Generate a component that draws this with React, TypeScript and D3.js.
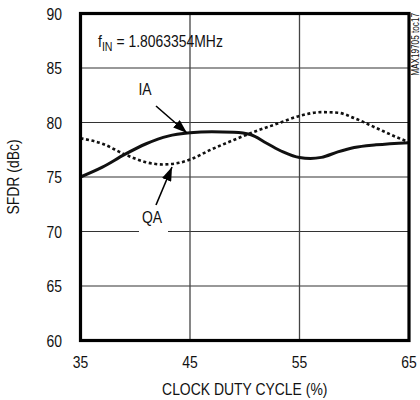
import React from "react";
import * as d3 from "d3";

const xTicks = [35, 45, 55, 65];
const yTicks = [60, 65, 70, 75, 80, 85, 90];

const iaX = [35, 37, 39, 41, 43, 45, 47, 49, 50.5, 52, 53.5, 55, 56, 57, 58.5, 60, 62, 65];
const iaY = [75.0, 75.9, 77.05, 78.05, 78.75, 79.05, 79.15, 79.1, 78.9, 78.1, 77.3, 76.78, 76.7, 76.8, 77.3, 77.7, 77.95, 78.15];

const qaX = [35, 37, 39, 41, 42.5, 44, 45, 47, 49, 51, 53, 55, 57, 58.5, 60, 62, 64, 65];
const qaY = [78.55, 78.05, 77.1, 76.35, 76.15, 76.3, 76.6, 77.55, 78.4, 79.2, 79.9, 80.6, 80.95, 80.9, 80.4, 79.5, 78.6, 78.2];

const FONT = "'Liberation Sans Narrow', 'Arial Narrow', 'Liberation Sans', Arial, sans-serif";
const SX = 0.82;

function T({ x, y, size = 17, anchor = "start", rot = 0, children }: any) {
  return (
    <g transform={`translate(${x},${y}) rotate(${rot}) scale(${SX},1)`}>
      <text x={0} y={0} fontFamily={FONT} fontSize={size} textAnchor={anchor} fill="#111">
        {children}
      </text>
    </g>
  );
}

export default function App() {
  const left = 80.5, right = 409, top = 13.5, bottom = 340.5;
  const x = d3.scaleLinear().domain([35, 65]).range([left, right]);
  const y = d3.scaleLinear().domain([60, 90]).range([bottom, top]);

  const line = d3
    .line<[number, number]>()
    .x((d) => x(d[0]))
    .y((d) => y(d[1]))
    .curve(d3.curveMonotoneX);

  const ia = line(iaX.map((v, i) => [v, iaY[i]] as [number, number])) || "";
  const qa = line(qaX.map((v, i) => [v, qaY[i]] as [number, number])) || "";

  return (
    <svg width={420} height={400} style={{ position: "absolute", left: 0, top: 0 }}>
      <defs>
        <marker id="ah" viewBox="0 0 14 10" refX="14" refY="5" markerWidth="14" markerHeight="10" markerUnits="userSpaceOnUse" orient="auto">
          <path d="M0,0 L14,5 L0,10 Z" fill="#000" />
        </marker>
      </defs>
      <rect x={0} y={0} width={420} height={400} fill="#fff" />
      {yTicks.filter((t) => t > 60 && t < 90).map((t) => (
        <line key={"gy" + t} x1={left} x2={right} y1={y(t)} y2={y(t)} stroke="#333" strokeWidth={1.2} />
      ))}
      {xTicks.filter((t) => t > 35 && t < 65).map((t) => (
        <line key={"gx" + t} x1={x(t)} x2={x(t)} y1={top} y2={bottom} stroke="#444" strokeWidth={1.3} />
      ))}
      <path d={qa} fill="none" stroke="#111" strokeWidth={2.6} strokeDasharray="3 2.6" />
      <path d={ia} fill="none" stroke="#111" strokeWidth={3} />
      <rect x={left} y={top} width={right - left} height={bottom - top} fill="none" stroke="#000" strokeWidth={3.2} />
      <rect x={139} y={204} width={29} height={31} fill="#fff" />
      <line x1={156} y1={106} x2={187} y2={133} stroke="#000" strokeWidth={1.6} markerEnd="url(#ah)" />
      <line x1={156} y1={205} x2={172} y2={167} stroke="#000" strokeWidth={1.6} markerEnd="url(#ah)" />
      <T x={145} y={95} anchor="middle">IA</T>
      <T x={152} y={223} anchor="middle">QA</T>
      <T x={98} y={47}>
        f<tspan fontSize={13} dy={4}>IN</tspan><tspan dy={-4}> = 1.8063354MHz</tspan>
      </T>
      {yTicks.map((t) => (
        <T key={"yl" + t} x={62} y={y(t) + 6} anchor="end">{t}</T>
      ))}
      {xTicks.map((t) => (
        <T key={"xl" + t} x={x(t)} y={368} anchor="middle">{t}</T>
      ))}
      <T x={(left + right) / 2} y={395} anchor="middle">CLOCK DUTY CYCLE (%)</T>
      <T x={19} y={(top + bottom) / 2} anchor="middle" rot={-90}>SFDR (dBc)</T>
      <T x={418.5} y={13} anchor="end" rot={-90} size={10}>MAX19705 toc17</T>
    </svg>
  );
}
